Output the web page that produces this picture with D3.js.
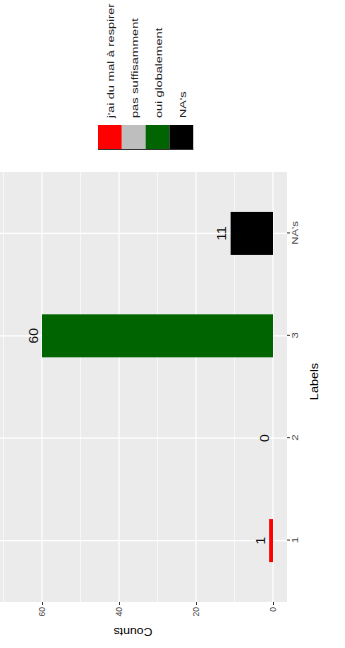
<!DOCTYPE html>
<html>
<head>
<meta charset="utf-8">
<script src="https://cdn.jsdelivr.net/npm/d3@7"></script>
<style>
body { margin: 0; background: #fff; }
svg { display: block; }
</style>
</head>
<body>
<div class="canvas"></div>
<script>
// data
var categories = ["1", "2", "3", "NA's"]
var counts = [1, 0, 60, 11]
var bar_colors = ["#ff0000", "#bebebe", "#006400", "#000000"]
var legend_labels = ["j'ai du mal à respirer", "pas suffisamment", "oui globalement", "NA's"]
var major_ticks = [0, 20, 40, 60]
var minor_ticks = [10, 30, 50, 70]

var W = 345, H = 648
// the plot is drawn as a normal 648x345 ggplot, then turned a quarter left
var font = "Liberation Sans, Arial, sans-serif"

var svg = d3.select(".canvas").append("svg").attr("width", W).attr("height", H)
var g = svg.append("g").attr("transform", "translate(0," + H + ") rotate(-90)")

var panel = {x0: 46, x1: 476, y0: -22, y1: 287}

var x = d3.scalePoint().domain(categories).range([panel.x0, panel.x1]).padding(0.6)
var y = d3.scaleLinear().domain([0, 60]).range([273, 42])
var bw = x.step() * 0.42

// panel background
g.append("rect")
    .attr("x", panel.x0).attr("y", panel.y0)
    .attr("width", panel.x1 - panel.x0).attr("height", panel.y1 - panel.y0)
    .attr("fill", "#ebebeb")

// minor grid
g.selectAll(".minor").data(minor_ticks).enter().append("line")
    .attr("x1", panel.x0).attr("x2", panel.x1)
    .attr("y1", d => y(d)).attr("y2", d => y(d))
    .attr("stroke", "#fff").attr("stroke-width", 0.6)

// major grid
g.selectAll(".major").data(major_ticks).enter().append("line")
    .attr("x1", panel.x0).attr("x2", panel.x1)
    .attr("y1", d => y(d)).attr("y2", d => y(d))
    .attr("stroke", "#fff").attr("stroke-width", 1.2)

g.selectAll(".vgrid").data(categories).enter().append("line")
    .attr("x1", d => x(d)).attr("x2", d => x(d))
    .attr("y1", panel.y0).attr("y2", panel.y1)
    .attr("stroke", "#fff").attr("stroke-width", 1.2)

// bars
g.selectAll(".bar").data(counts).enter().append("rect")
    .attr("x", (d, i) => x(categories[i]) - bw / 2)
    .attr("width", bw)
    .attr("y", d => y(d))
    .attr("height", d => y(0) - y(d))
    .attr("fill", (d, i) => bar_colors[i])

// value labels (text in the picture is a bit stretched along its reading direction)
g.selectAll(".vlab").data(counts).enter().append("text")
    .attr("transform", (d, i) => "translate(" + x(categories[i]) + "," + (y(d) - 4.5) + ") scale(1.15,1)")
    .attr("text-anchor", "middle")
    .attr("font-family", font).attr("font-size", 12)
    .attr("fill", "#111")
    .text(d => d)

// x axis (categories)
var xa = d3.axisBottom(x).tickSize(3).tickPadding(2)
var gx = g.append("g").attr("transform", "translate(0," + panel.y1 + ")").call(xa)
gx.select(".domain").remove()
gx.selectAll("line").attr("stroke", "#333").attr("stroke-width", 1)
gx.selectAll("text").attr("font-family", font).attr("font-size", 8.5).attr("fill", "#4d4d4d")
    .attr("transform", "scale(1.35,1)")

// y axis (counts)
var ya = d3.axisLeft(y).tickValues(major_ticks).tickSize(3).tickPadding(2)
var gy = g.append("g").attr("transform", "translate(" + panel.x0 + ",0)").call(ya)
gy.select(".domain").remove()
gy.selectAll("line").attr("stroke", "#333").attr("stroke-width", 1)
gy.selectAll("text").attr("font-family", font).attr("font-size", 8.5).attr("fill", "#4d4d4d")

// axis titles
g.append("text")
    .attr("transform", "translate(" + ((panel.x0 + panel.x1) / 2 + 5.5) + ",318) scale(1.15,1)")
    .attr("text-anchor", "middle")
    .attr("font-family", font).attr("font-size", 11).attr("fill", "#000")
    .text("Labels")

g.append("text")
    .attr("transform", "translate(20,133) rotate(-90) scale(1.12,1)")
    .attr("text-anchor", "middle")
    .attr("font-family", font).attr("font-size", 11).attr("fill", "#000")
    .text("Counts")

// legend
var key_h = 23.8
var leg = g.append("g").attr("transform", "translate(498,98)")
leg.selectAll("rect").data(legend_labels).enter().append("rect")
    .attr("x", 0).attr("y", (d, i) => i * key_h)
    .attr("width", 25).attr("height", key_h)
    .attr("fill", (d, i) => bar_colors[i])
leg.append("line")
    .attr("x1", 0.5).attr("x2", 0.5).attr("y1", 0).attr("y2", key_h * 4)
    .attr("stroke", "#333").attr("stroke-width", 1)
leg.selectAll("text").data(legend_labels).enter().append("text")
    .attr("transform", (d, i) => "translate(32," + (i * key_h + key_h / 2 + 4.5) + ") scale(1.42,1)")
    .attr("font-family", font).attr("font-size", 9).attr("fill", "#222")
    .text(d => d)
</script>
</body>
</html>
